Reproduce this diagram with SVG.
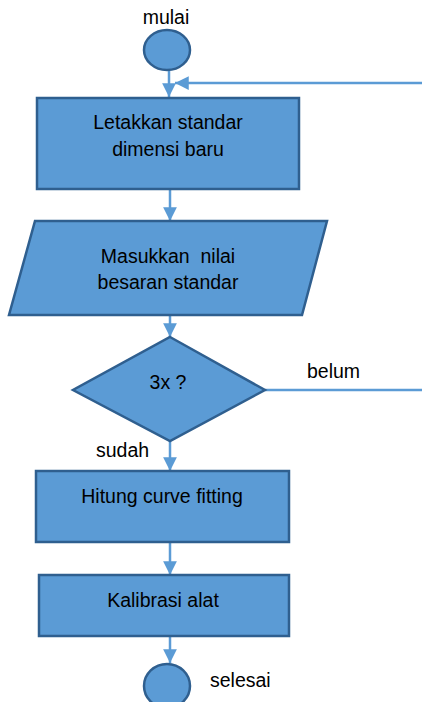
<svg xmlns="http://www.w3.org/2000/svg" width="422" height="702" viewBox="0 0 422 702">
<style>
.n{fill:#5B9BD5;stroke:#2F5F8F;stroke-width:2.5}
.c{stroke:#5B9BD5;stroke-width:2.5;fill:none}
.t{font-family:"Liberation Sans",Arial,sans-serif;font-size:19.5px;fill:#000;text-anchor:middle;white-space:pre}
.l{font-family:"Liberation Sans",Arial,sans-serif;font-size:19.5px;fill:#000}
</style>
<defs>
<marker id="ah" viewBox="0 0 10 10" refX="10" refY="5" markerWidth="5.5" markerHeight="5.5" orient="auto" markerUnits="strokeWidth">
<path d="M0,0 L10,5 L0,10 z" fill="#5B9BD5"/>
</marker>
</defs>
<rect width="422" height="702" fill="#fff"/>
<g id="connectors">
<line class="c" x1="169" y1="71" x2="169" y2="97" marker-end="url(#ah)"/>
<line class="c" x1="422" y1="83" x2="175" y2="83" marker-end="url(#ah)"/>
<line class="c" x1="170" y1="190" x2="170" y2="221" marker-end="url(#ah)"/>
<line class="c" x1="170" y1="315" x2="170" y2="337" marker-end="url(#ah)"/>
<line class="c" x1="265" y1="390" x2="422" y2="390"/>
<line class="c" x1="170" y1="441" x2="170" y2="471" marker-end="url(#ah)"/>
<line class="c" x1="170" y1="542" x2="170" y2="575" marker-end="url(#ah)"/>
<line class="c" x1="170" y1="636" x2="170" y2="663" marker-end="url(#ah)"/>
</g>
<g id="start">
<ellipse class="n" cx="167" cy="50" rx="23" ry="20"/>
<text class="t" x="166" y="24">mulai</text>
</g>
<g id="box1">
<rect class="n" x="37" y="98" width="262" height="91"/>
<text class="t" x="168" y="129">Letakkan standar</text>
<text class="t" x="168" y="156">dimensi baru</text>
</g>
<g id="input">
<polygon class="n" points="35,221 327,221 302,315 9,315"/>
<text class="t" x="168" y="263" xml:space="preserve">Masukkan  nilai</text>
<text class="t" x="168" y="289">besaran standar</text>
</g>
<g id="decision">
<polygon class="n" points="170,337 265,390 170,441 73,390"/>
<text class="t" x="168" y="389">3x ?</text>
<text class="l" x="307" y="378">belum</text>
<text class="l" x="96" y="457">sudah</text>
</g>
<g id="box2">
<rect class="n" x="36" y="471" width="253" height="71"/>
<text class="t" x="162" y="503">Hitung curve fitting</text>
</g>
<g id="box3">
<rect class="n" x="39" y="575" width="250" height="61"/>
<text class="t" x="163" y="607">Kalibrasi alat</text>
</g>
<g id="end">
<ellipse class="n" cx="167" cy="686" rx="23" ry="22"/>
<text class="l" x="210" y="687">selesai</text>
</g>
</svg>
